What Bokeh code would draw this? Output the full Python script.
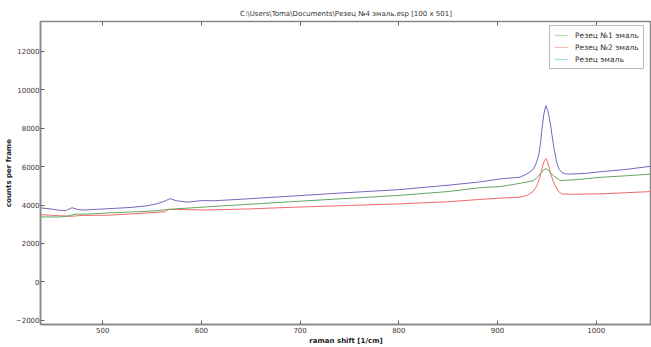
from bokeh.plotting import figure
from bokeh.models import Range1d, LinearAxis, Legend, LegendItem, FixedTicker
from bokeh.embed import file_html
from bokeh.resources import INLINE

title_text = "C:\\Users\\Toma\\Documents\\Резец №4 эмаль.esp [100 x 501]"
x_label = "raman shift [1/cm]"
y_label = "counts per frame"
legend_labels = ["Резец №1 эмаль", "Резец №2 эмаль", "Резец эмаль"]
x_ticks = [500, 600, 700, 800, 900, 1000]
y_ticks = [-2000, 0, 2000, 4000, 6000, 8000, 10000, 12000]

x_blue = [437, 447, 457, 463, 469, 475, 481, 495, 510, 530, 545, 555, 562, 568, 575, 586, 600, 612,
          640, 690, 740, 800, 850, 882, 903, 923, 931, 936.5, 939, 941.6, 943.5, 945, 947, 949, 951,
          953.4, 956.8, 960, 962.5, 965, 969, 973.7, 990, 1004, 1030, 1056]
y_blue = [3850, 3800, 3720, 3720, 3860, 3760, 3740, 3780, 3820, 3880, 3960, 4070, 4180, 4330, 4220,
          4150, 4230, 4220, 4300, 4460, 4620, 4800, 5030, 5200, 5360, 5450, 5650, 5870, 6150, 6550,
          7200, 7930, 8750, 9170, 8900, 8280, 7070, 6210, 5850, 5700, 5620, 5610, 5650, 5730, 5850,
          6020]

x_green = [437, 457, 465, 472, 490, 505, 530, 555, 565, 589, 620, 690, 750, 800, 850, 882, 903, 923,
           936.5, 940, 943, 946, 949, 952, 956.8, 963.6, 980, 1004, 1030, 1056]
y_green = [3380, 3380, 3430, 3520, 3540, 3590, 3640, 3700, 3770, 3850, 3950, 4170, 4350, 4500, 4700,
           4900, 4960, 5130, 5270, 5420, 5610, 5800, 5900, 5780, 5520, 5270, 5320, 5440, 5520, 5610]

x_red = [437, 450, 467, 480, 505, 530, 555, 563, 567, 585, 605, 650, 690, 750, 800, 850, 882, 903,
         923, 930, 936, 940, 943, 945, 947, 949, 951, 953.4, 956, 958.5, 961.5, 965, 975, 1004, 1030,
         1056]
y_red = [3500, 3460, 3410, 3460, 3470, 3540, 3620, 3650, 3770, 3760, 3740, 3800, 3880, 3980, 4060,
         4170, 4290, 4360, 4410, 4500, 4700, 5010, 5450, 5870, 6250, 6420, 6200, 5700, 5300, 5010,
         4720, 4580, 4560, 4580, 4640, 4700]

FONT = "DejaVu Sans"
TICK_COLOR = "#3f3430"

p = figure(width=651, height=347, output_backend="svg", toolbar_location=None,
           x_range=Range1d(437, 1056), y_range=Range1d(-2214, 13545),
           min_border_left=40, min_border_right=0, min_border_top=21, min_border_bottom=0)
p.title.text = title_text
p.title.align = "center"
p.title.text_font = FONT
p.title.text_font_size = "7px"
p.title.text_font_style = "normal"
p.title.text_color = "#333333"
p.title.standoff = 7
p.title.offset = 0

p.xgrid.visible = False
p.ygrid.visible = False
p.outline_line_color = "#888888"
p.outline_line_width = 1.5

for ax in [p.xaxis[0], p.yaxis[0]]:
    ax.axis_line_color = "#888888"
    ax.axis_line_width = 1.5
    ax.major_tick_in = 4
    ax.major_tick_out = 0
    ax.minor_tick_in = 0
    ax.minor_tick_out = 0
    ax.major_tick_line_color = "#666666"
    ax.major_label_text_font = FONT
    ax.major_label_text_font_size = "7px"
    ax.major_label_text_color = TICK_COLOR
    ax.axis_label_text_font = FONT
    ax.axis_label_text_font_size = "7px"
    ax.axis_label_text_font_style = "bold"
    ax.axis_label_text_color = "#222222"
    ax.major_label_standoff = 2
    ax.axis_label_standoff = 1

p.yaxis.major_label_standoff = 1
p.yaxis.axis_label_standoff = 0
p.xaxis.ticker = FixedTicker(ticks=x_ticks)
p.yaxis.ticker = FixedTicker(ticks=y_ticks)
p.xaxis.axis_label = x_label
p.yaxis.axis_label = y_label
p.yaxis.major_label_overrides = {-2000: "\u22122000"}

top_ax = LinearAxis(ticker=FixedTicker(ticks=x_ticks),
                    major_label_overrides={t: "" for t in x_ticks},
                    major_tick_in=4, major_tick_out=0, minor_tick_in=0, minor_tick_out=0,
                    axis_line_color="#888888", major_tick_line_color="#666666",
                    major_label_standoff=0)
p.add_layout(top_ax, "above")

l1 = p.line(x_blue, y_blue, line_color="#7668c0", line_width=1)
l2 = p.line(x_red, y_red, line_color="#f06a6a", line_width=1)
l3 = p.line(x_green, y_green, line_color="#5fa85f", line_width=1)

d1 = p.line([0], [0], line_color="#b5dfb5", line_width=1.2)
d2 = p.line([0], [0], line_color="#f8bcbc", line_width=1.2)
d3 = p.line([0], [0], line_color="#a6dfda", line_width=1.2)

legend = Legend(items=[LegendItem(label=legend_labels[0], renderers=[d1]),
                       LegendItem(label=legend_labels[1], renderers=[d2]),
                       LegendItem(label=legend_labels[2], renderers=[d3])],
                location=(509, 255))
legend.label_text_font = FONT
legend.label_text_font_size = "7.5px"
legend.label_text_color = "#333333"
legend.label_height = 10
legend.glyph_height = 10
legend.glyph_width = 14
legend.label_standoff = 7
legend.spacing = 2
legend.padding = 4
legend.margin = 0
legend.border_line_color = "#777777"
legend.border_line_width = 1
legend.background_fill_color = "white"
legend.background_fill_alpha = 1
p.add_layout(legend, "center")

html = file_html(p, INLINE)
open("out.html", "w").write(html)
